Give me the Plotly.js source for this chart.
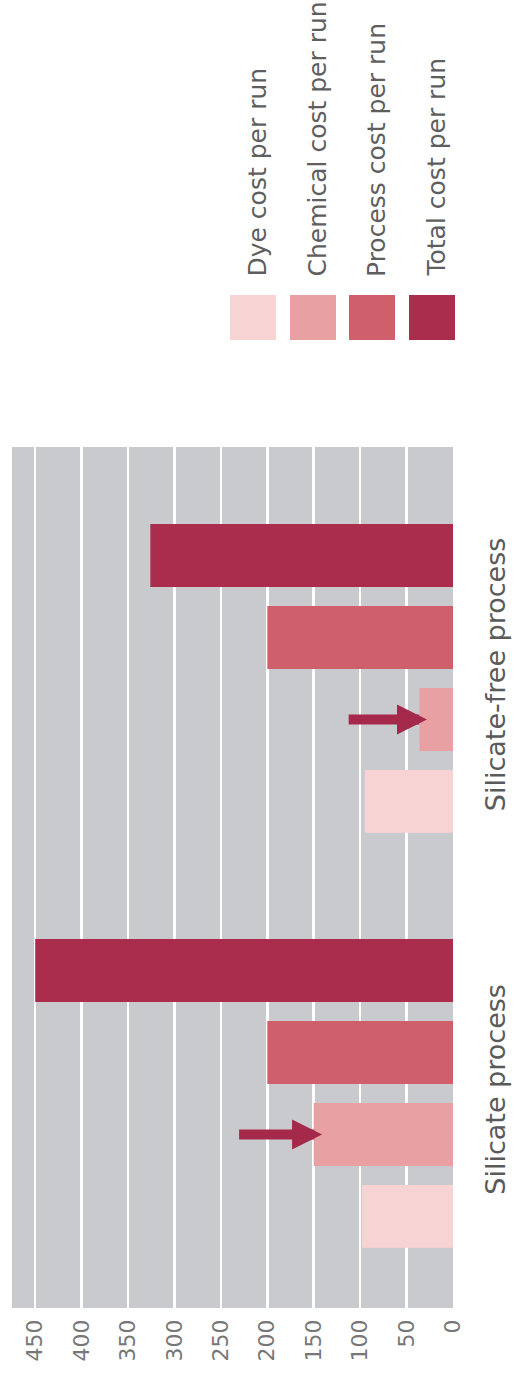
<!DOCTYPE html>
<html>
<head>
<meta charset="utf-8">
<script src="https://cdn.plot.ly/plotly-3.0.1.min.js"></script>
<style>html,body{margin:0;padding:0;background:#fff;}#chart{width:515px;height:1382px;}</style>
</head>
<body>
<div id="chart"></div>
<script>
// ---- data ----
var categories = ["Silicate process", "Silicate-free process"];
var seriesNames = ["Dye cost per run", "Chemical cost per run", "Process cost per run", "Total cost per run"];
var dyeCost = [98, 95];
var chemicalCost = [150, 36];
var processCost = [200, 200];
var totalCost = [450, 326];
var tickValues = [0, 50, 100, 150, 200, 250, 300, 350, 400, 450];
var tickLabels = ["0", "50", "100", "150", "200", "250", "300", "350", "400", "450"];
// arrows pointing at the chemical-cost bars (tip value, tail value)
var arrowTip = [141, 28];
var arrowTail = [232, 114];

// ---- styles ----
var colors = ["#f8d3d4", "#e9a0a3", "#cf5f6b", "#ab2d4e"];
var arrowColor = "#a5294a";
var FONT = "DejaVu Sans, Liberation Sans, Arial, sans-serif";
var W = 515, H = 1382;
var M = {l: 12, r: 62, t: 447, b: 74};
var plotW = W - M.l - M.r, plotH = H - M.t - M.b;
function pxX(px) { return (px - M.l) / plotW; }
function pxY(py) { return (H - M.b - py) / plotH; }

var bargap = 0.21, bargroupgap = 0.232;
var slot = (1 - bargap) / 4;

var seriesData = [dyeCost, chemicalCost, processCost, totalCost];
var traces = seriesData.map(function (vals, i) {
  return {
    type: "bar", orientation: "h",
    x: vals, y: categories, name: seriesNames[i],
    marker: {color: colors[i], line: {width: 0}},
    hoverinfo: "x+name", showlegend: false
  };
});

var shapes = [];
var annotations = [];
// legend swatches (rotated legend drawn manually)
var swatchLeft = [230, 290, 349, 409];
var swatchSize = 46;
var swatchTop = 295;
seriesNames.forEach(function (name, i) {
  shapes.push({
    type: "rect", xref: "paper", yref: "paper",
    x0: pxX(swatchLeft[i]), x1: pxX(swatchLeft[i] + swatchSize),
    y0: pxY(swatchTop + swatchSize - 1), y1: pxY(swatchTop),
    fillcolor: colors[i], line: {width: 0}
  });
  annotations.push({
    xref: "paper", yref: "paper",
    x: pxX(swatchLeft[i] + swatchSize / 2 + 4), y: pxY(279),
    xanchor: "center", yanchor: "bottom",
    text: name, textangle: -90, showarrow: false,
    font: {family: FONT, size: 25, color: "#5e5e5e"}
  });
});
// arrows
arrowTip.forEach(function (tip, i) {
  var yPos = i + (1 - 1.5) * slot; // chemical bar is trace index 1
  annotations.push({
    xref: "x", yref: "y", axref: "x", ayref: "y",
    x: tip, y: yPos, ax: arrowTail[i], ay: yPos,
    text: "", showarrow: true, arrowhead: 2, arrowwidth: 10, arrowsize: 0.6,
    arrowcolor: arrowColor, standoff: 0
  });
});

var layout = {
  width: W, height: H,
  margin: M,
  paper_bgcolor: "#ffffff",
  plot_bgcolor: "#c9cacd",
  barmode: "group", bargap: bargap, bargroupgap: bargroupgap,
  showlegend: false,
  xaxis: {
    range: [475, 0], tickvals: tickValues, ticktext: tickLabels,
    tickangle: -90, showgrid: true, gridcolor: "#ffffff", gridwidth: 2.5,
    zeroline: false, showline: false, ticks: "", ticklabelstandoff: 6,
    tickfont: {family: FONT, size: 22, color: "#777777"},
    fixedrange: true
  },
  yaxis: {
    type: "category", categoryorder: "array", categoryarray: categories,
    range: [-0.517, 1.5577], side: "right", tickangle: -90,
    showgrid: false, zeroline: false, showline: false, ticks: "",
    ticklabelstandoff: 24,
    tickfont: {family: FONT, size: 27, color: "#5a5a5a"},
    fixedrange: true
  },
  shapes: shapes,
  annotations: annotations
};

Plotly.newPlot("chart", traces, layout, {displayModeBar: false, staticPlot: true});
</script>
</body>
</html>
